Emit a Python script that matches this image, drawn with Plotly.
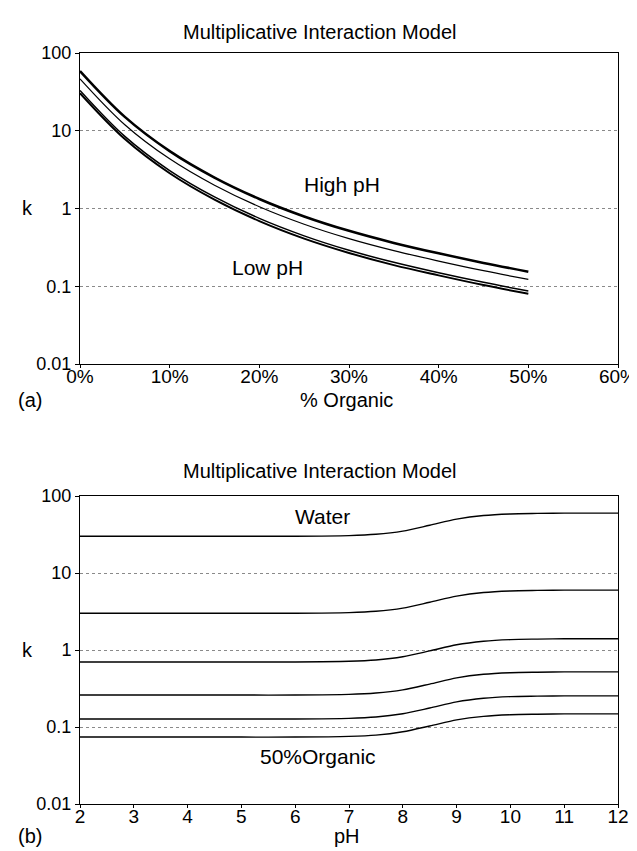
import plotly.graph_objects as go
from plotly.subplots import make_subplots

# ---- Panel (a): k vs % organic ----
organic_pct = [0, 5, 10, 15, 20, 25, 30, 35, 40, 45, 50]
k_high_ph = [58.6, 15.07, 5.47, 2.50, 1.327, 0.791, 0.516, 0.361, 0.265, 0.1997, 0.154]
k_mid_high = [46.6, 11.97, 4.35, 1.99, 1.054, 0.628, 0.410, 0.287, 0.211, 0.1586, 0.1225]
k_mid_low = [33.0, 8.47, 3.08, 1.41, 0.746, 0.445, 0.290, 0.203, 0.149, 0.1123, 0.0867]
k_low_ph = [30.4, 7.82, 2.84, 1.30, 0.689, 0.410, 0.268, 0.187, 0.138, 0.1036, 0.0800]

# ---- Panel (b): k vs pH ----
ph = [2, 3, 4, 5, 6, 7, 7.5, 8, 8.5, 9, 9.5, 10, 10.5, 11, 12]
k_0 = [30, 30, 30, 30, 30, 30.6, 31.8, 35.0, 41.7, 50.0, 55.8, 58.5, 59.4, 60, 60]
k_10 = [3.0, 3.0, 3.0, 3.0, 3.0, 3.06, 3.18, 3.50, 4.17, 5.00, 5.58, 5.85, 5.94, 6.0, 6.0]
k_20 = [0.70, 0.70, 0.70, 0.70, 0.70, 0.714, 0.742, 0.817, 0.973, 1.17, 1.30, 1.365, 1.386, 1.40, 1.40]
k_30 = [0.26, 0.26, 0.26, 0.26, 0.26, 0.265, 0.276, 0.304, 0.361, 0.434, 0.484, 0.507, 0.515, 0.52, 0.52]
k_40 = [0.127, 0.127, 0.127, 0.127, 0.127, 0.1295, 0.1346, 0.1486, 0.1765, 0.212, 0.236, 0.248, 0.2515, 0.254, 0.254]
k_50 = [0.074, 0.074, 0.074, 0.074, 0.074, 0.0755, 0.0784, 0.0866, 0.1029, 0.1236, 0.1376, 0.1443, 0.1465, 0.148, 0.148]

y_tickvals = [0.01, 0.1, 1, 10, 100]
y_ticktext = ["0.01", "0.1", "1", "10", "100"]
x_a_tickvals = [0, 10, 20, 30, 40, 50, 60]
x_a_ticktext = ["0%", "10%", "20%", "30%", "40%", "50%", "60%"]
x_b_tickvals = [2, 3, 4, 5, 6, 7, 8, 9, 10, 11, 12]

FONT = "Liberation Sans, Arial, Helvetica, sans-serif"
W, H = 637, 851
L, R, T, B = 72, 629, 45, 796

def px(x):
    return (x - L) / (R - L)

def py(y):
    return (B - y) / (B - T)

fig = make_subplots(rows=2, cols=1)

top_series = [
    (k_high_ph, 2.6),
    (k_mid_high, 1.2),
    (k_mid_low, 1.5),
    (k_low_ph, 2.0),
]
for ys, w in top_series:
    fig.add_trace(go.Scatter(x=organic_pct, y=ys, mode="lines",
                             line=dict(color="black", width=w, shape="spline", smoothing=1.0),
                             showlegend=False, hoverinfo="skip"), row=1, col=1)

for ys in [k_0, k_10, k_20, k_30, k_40, k_50]:
    fig.add_trace(go.Scatter(x=ph, y=ys, mode="lines",
                             line=dict(color="black", width=1.4, shape="spline", smoothing=0.8),
                             showlegend=False, hoverinfo="skip"), row=2, col=1)

yaxis_common = dict(type="log", range=[-2, 2], tickvals=y_tickvals, ticktext=y_ticktext,
                    showline=True, linecolor="black", linewidth=1, mirror=True,
                    ticks="outside", ticklen=4, tickcolor="black",
                    showgrid=True, gridcolor="#8a8a8a", gridwidth=1, griddash="dot",
                    zeroline=False, tickfont=dict(family=FONT, size=18, color="black"))
xaxis_common = dict(showline=True, linecolor="black", linewidth=1, mirror=True,
                    ticks="outside", ticklen=3, tickcolor="black", showgrid=False,
                    zeroline=False, ticklabeloverflow="allow", ticklabelstandoff=-8,
                    tickfont=dict(family=FONT, size=19, color="black"))

top_dom = [py(356), 1.0]
bot_dom = [0.0, py(488)]

fig.update_layout(
    width=W, height=H,
    margin=dict(l=L, r=W - R, t=T, b=H - B),
    paper_bgcolor="white", plot_bgcolor="white",
    font=dict(family=FONT, size=18, color="black"),
    xaxis=dict(**xaxis_common, range=[0, 60], tickvals=x_a_tickvals, ticktext=x_a_ticktext, domain=[0, 1]),
    yaxis=dict(**yaxis_common, domain=top_dom),
    xaxis2=dict(**xaxis_common, range=[2, 12], tickvals=x_b_tickvals, domain=[0, 1]),
    yaxis2=dict(**yaxis_common, domain=bot_dom),
)

def ann(text, x, y, size=20, xanchor="center"):
    fig.add_annotation(text=text, x=px(x), y=py(y), xref="paper", yref="paper",
                       showarrow=False, xanchor=xanchor, yanchor="middle",
                       font=dict(family=FONT, size=size, color="black"))

ann("Multiplicative Interaction Model", 320, 24)
ann("Multiplicative Interaction Model", 320, 463)
ann("% Organic", 348, 392)
ann("pH", 348, 828)
ann("(a)", 20, 392)
ann("(b)", 20, 828)
ann("k", 18, 200)
ann("k", 18, 642)
ann("High pH", 343, 177, size=21)
ann("Low pH", 266, 259, size=21)
ann("Water", 323, 509, size=21)
ann("50%Organic", 318, 748, size=21)

fig.write_html("out.html")
